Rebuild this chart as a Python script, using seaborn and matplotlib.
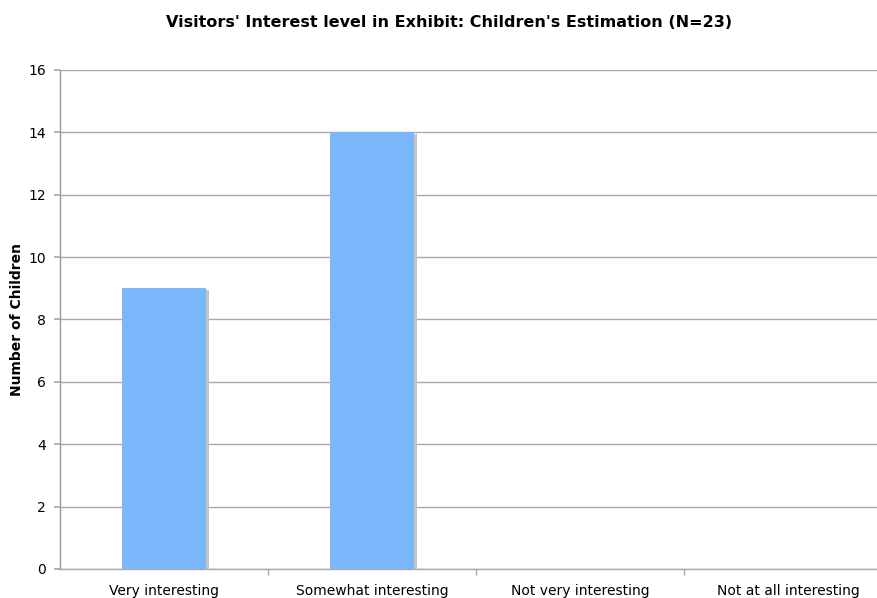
import matplotlib
matplotlib.use("Agg")
import matplotlib.pyplot as plt
import matplotlib.patheffects as pe
import seaborn as sns
import pandas as pd

categories = ["Very interesting", "Somewhat interesting", "Not very interesting", "Not at all interesting"]
counts = [9, 14, 0, 0]
yticks = [0, 2, 4, 6, 8, 10, 12, 14, 16]

sns.set_theme(style="white")
plt.rcParams['font.family'] = ['DejaVu Sans']

df = pd.DataFrame({"category": categories, "count": counts})

fig = plt.figure(figsize=(8.78, 5.98), dpi=100)
ax = fig.add_axes([60 / 878, 0.0485, 832 / 878, 0.8345])

sns.barplot(data=df, x="category", y="count", color="#7ab8fb", saturation=1,
            width=0.404, ax=ax, zorder=3)
for p in ax.patches:
    p.set_linewidth(0)
    p.set_path_effects([pe.SimplePatchShadow(offset=(2.5, -1.5), shadow_rgbFace="#c4c4c4", alpha=1.0), pe.Normal()])

ax.set_ylim(0, 16)
ax.set_xlim(-0.5, 3.5)
ax.set_yticks(yticks)
ax.set_yticklabels([str(v) for v in yticks], fontsize=10, color="black")
ax.yaxis.grid(True, color="#aaaaaa", linewidth=1)
ax.set_axisbelow(True)
ax.xaxis.grid(False)

ax.set_xticks(range(len(categories)))
ax.set_xticklabels(categories, fontsize=10, color="black")
ax.tick_params(axis="x", length=0, pad=11)
ax.set_xticks([0.5, 1.5, 2.5], minor=True)
ax.tick_params(axis="x", which="minor", length=4, color="#aaaaaa", direction="out", bottom=True)
ax.tick_params(axis="y", length=4, color="#aaaaaa", direction="out", left=True, pad=6)

for s in ["top", "right"]:
    ax.spines[s].set_visible(False)
ax.spines["left"].set_color("#999999")
ax.spines["bottom"].set_color("#aaaaaa")
for s in ["left", "bottom"]:
    ax.spines[s].set_linewidth(1)

ax.set_xlabel("")
ax.set_ylabel("Number of Children", fontsize=10, fontweight="bold", color="black")
ax.yaxis.set_label_coords(-0.043, 0.5)
fig.suptitle("Visitors' Interest level in Exhibit: Children's Estimation (N=23)",
             fontsize=11.5, fontweight="bold", x=449 / 878, y=0.975, color="black")

fig.savefig("out.png", dpi=100)
